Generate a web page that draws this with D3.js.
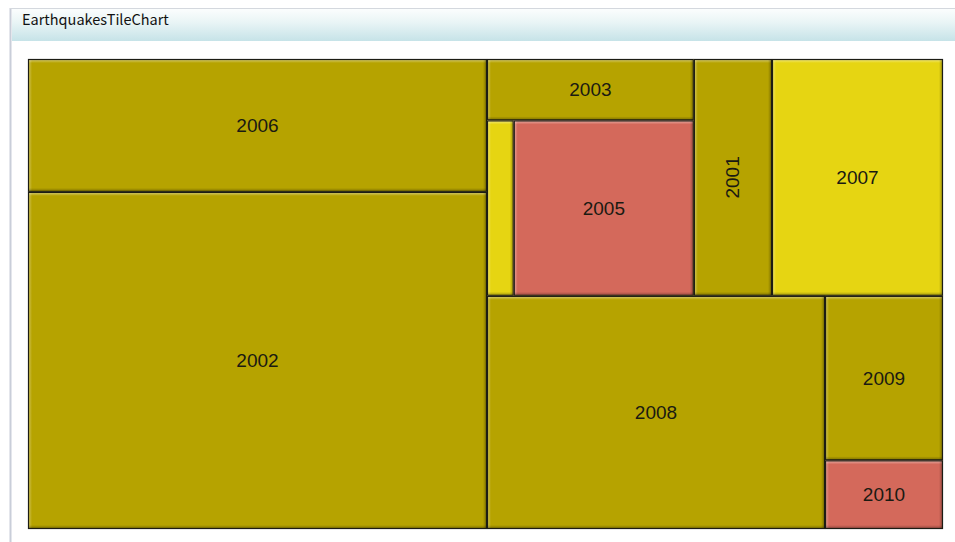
<!DOCTYPE html>
<html>
<head>
<meta charset="utf-8">
<script src="https://cdn.jsdelivr.net/npm/d3@7"></script>
<style>
  html, body { margin: 0; padding: 0; background: #ffffff; }
  svg { display: block; }
</style>
</head>
<body>
<svg id="chart" width="955" height="542"></svg>
<script>
// Earthquake tiles, one per year
const years  = ["2001", "2002", "2003", "2004", "2005", "2006", "2007", "2008", "2009", "2010"];
const counts = [185, 1547, 127, 47, 316, 610, 405, 788, 194, 81];
const tones  = [0, 0, 0, 1, 2, 0, 1, 0, 0, 2];

// Grouping of the tiles; alternating horizontal/vertical splits per depth
const tileGroups = [
  ["2006", "2002"],
  [
    [["2003", ["2004", "2005"]], "2001", "2007"],
    ["2008", ["2009", "2010"]]
  ]
];

const toneColors = ["#b6a300", "#e6d512", "#d4695b"];

const svg = d3.select("#chart");
const W = 955, H = 542;

// ---- panel frame and header ----
const defs = svg.append("defs");
const hdr = defs.append("linearGradient").attr("id", "hdrGrad")
  .attr("x1", 0).attr("y1", 0).attr("x2", 0).attr("y2", 1);
hdr.append("stop").attr("offset", "0%").attr("stop-color", "#fbfdfd");
hdr.append("stop").attr("offset", "40%").attr("stop-color", "#eaf5f6");
hdr.append("stop").attr("offset", "100%").attr("stop-color", "#c6e3e8");

svg.append("rect").attr("x", 0).attr("y", 0).attr("width", W).attr("height", H).attr("fill", "#ffffff");
svg.append("line").attr("x1", 10.5).attr("x2", 10.5).attr("y1", 8).attr("y2", H)
  .attr("stroke", "#c9ced9").attr("stroke-width", 2);
svg.append("line").attr("x1", 10).attr("x2", W).attr("y1", 8.5).attr("y2", 8.5)
  .attr("stroke", "#d4d8de").attr("stroke-width", 1);
svg.append("rect").attr("x", 12).attr("y", 9).attr("width", W - 12).attr("height", 32)
  .attr("fill", "url(#hdrGrad)");
svg.append("text").attr("x", 22).attr("y", 25)
  .attr("font-family", "'Noto Sans CJK JP', 'Noto Sans', sans-serif")
  .attr("font-size", 14.5).attr("fill", "#111")
  .text("EarthquakesTileChart");

// ---- bevel gradients ----
function edgeGrad(id, x2, y2, color, o0, o1) {
  const g = defs.append("linearGradient").attr("id", id)
    .attr("x1", 0).attr("y1", 0).attr("x2", x2).attr("y2", y2);
  g.append("stop").attr("offset", "0%").attr("stop-color", color).attr("stop-opacity", o0);
  g.append("stop").attr("offset", "100%").attr("stop-color", color).attr("stop-opacity", o1);
}
edgeGrad("hiTop", 0, 1, "#ffffff", 0.5, 0);
edgeGrad("hiLeft", 1, 0, "#ffffff", 0.4, 0);
edgeGrad("shBottom", 0, 1, "#000000", 0, 0.35);
edgeGrad("shRight", 1, 0, "#000000", 0, 0.35);

// ---- treemap ----
const area = { x: 28, y: 59, w: 915, h: 470 };
const valueOf = new Map(years.map((y, i) => [y, counts[i]]));
const toneOf = new Map(years.map((y, i) => [y, tones[i]]));
const color = d3.scaleOrdinal().domain([0, 1, 2]).range(toneColors);

const root = d3.hierarchy(tileGroups, d => Array.isArray(d) ? d : null)
  .sum(d => Array.isArray(d) ? 0 : valueOf.get(d));

d3.treemap()
  .tile(d3.treemapSliceDice)
  .size([area.w, area.h])
  .paddingInner(0)
  (root);

const g = svg.append("g").attr("transform", `translate(${area.x},${area.y})`);

const tiles = g.selectAll("g.tile")
  .data(root.leaves())
  .join("g")
  .attr("class", "tile")
  .attr("transform", d => `translate(${d.x0},${d.y0})`);

tiles.append("rect")
  .attr("width", d => d.x1 - d.x0)
  .attr("height", d => d.y1 - d.y0)
  .attr("fill", d => color(toneOf.get(d.data)));

const bev = 4;
tiles.append("rect")
  .attr("width", d => d.x1 - d.x0).attr("height", bev)
  .attr("fill", "url(#hiTop)");
tiles.append("rect")
  .attr("width", bev).attr("height", d => d.y1 - d.y0)
  .attr("fill", "url(#hiLeft)");
tiles.append("rect")
  .attr("y", d => d.y1 - d.y0 - bev)
  .attr("width", d => d.x1 - d.x0).attr("height", bev)
  .attr("fill", "url(#shBottom)");
tiles.append("rect")
  .attr("x", d => d.x1 - d.x0 - bev)
  .attr("width", bev).attr("height", d => d.y1 - d.y0)
  .attr("fill", "url(#shRight)");

tiles.append("rect")
  .attr("x", 0.5).attr("y", 0.5)
  .attr("width", d => Math.max(0, d.x1 - d.x0 - 1))
  .attr("height", d => Math.max(0, d.y1 - d.y0 - 1))
  .attr("fill", "none")
  .attr("stroke", "#1c1c14")
  .attr("stroke-width", 1.2);

// labels: hidden on narrow tiles, turned upright on tall thin ones
tiles.filter(d => Math.min(d.x1 - d.x0, d.y1 - d.y0) >= 30)
  .append("text")
  .attr("transform", d => {
    const w = d.x1 - d.x0, h = d.y1 - d.y0;
    const rot = h > 2 * w ? -90 : 0;
    return `translate(${w / 2},${h / 2}) rotate(${rot})`;
  })
  .attr("text-anchor", "middle")
  .attr("dominant-baseline", "central")
  .attr("font-family", "'Liberation Sans', Arial, sans-serif")
  .attr("font-size", 19)
  .attr("fill", "#1a1a12")
  .text(d => d.data);
</script>
</body>
</html>
